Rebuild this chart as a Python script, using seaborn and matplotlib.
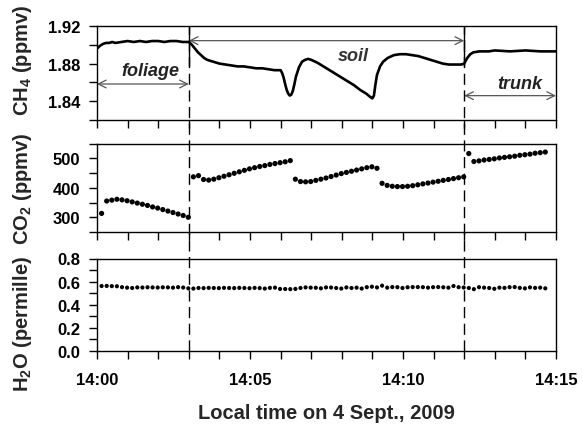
import matplotlib
matplotlib.use("Agg")
import matplotlib.pyplot as plt
import matplotlib.transforms as mtransforms
from matplotlib.lines import Line2D
from matplotlib.ticker import MultipleLocator
import numpy as np
import pandas as pd
import seaborn as sns

# ---------------- data ----------------
# CH4 (ppmv), time in minutes after 14:00
ch4_time = [0.0, 0.1, 0.2, 0.3, 0.4, 0.5, 0.6, 0.8, 1.0, 1.2, 1.4, 1.6, 1.8, 2.0, 2.2, 2.4, 2.6, 2.8, 3.0,
            3.1, 3.2, 3.3, 3.4, 3.5, 3.6, 3.8, 4.0, 4.2, 4.4, 4.6, 4.8, 5.0, 5.2, 5.4, 5.6, 5.8, 6.0,
            6.05, 6.1, 6.15, 6.2, 6.25, 6.3, 6.35, 6.4, 6.45, 6.5, 6.6, 6.7, 6.8, 6.9, 7.0, 7.2, 7.4,
            7.6, 7.8, 8.0, 8.2, 8.4, 8.6, 8.8, 8.95, 9.0, 9.05, 9.1, 9.15, 9.25, 9.35, 9.5, 9.7, 9.9,
            10.1, 10.3, 10.5, 10.7, 10.9, 11.1, 11.3, 11.5, 11.7, 11.9, 12.0, 12.1, 12.2, 12.3, 12.5,
            12.8, 13.0, 13.5, 14.0, 14.5, 15.0]
ch4_value = [1.896, 1.899, 1.901, 1.902, 1.902, 1.903, 1.902, 1.903, 1.904, 1.903, 1.904, 1.903, 1.904,
             1.904, 1.903, 1.904, 1.904, 1.903, 1.903,
             1.900, 1.896, 1.892, 1.889, 1.886, 1.884, 1.882, 1.880, 1.879, 1.878, 1.877, 1.877, 1.876,
             1.875, 1.875, 1.874, 1.873, 1.873,
             1.870, 1.865, 1.858, 1.852, 1.848, 1.846, 1.847, 1.851, 1.858, 1.866, 1.876, 1.882, 1.884,
             1.885, 1.884, 1.881, 1.877, 1.873, 1.869, 1.865, 1.861, 1.857, 1.852, 1.848, 1.844, 1.843,
             1.846, 1.858, 1.868, 1.877, 1.882, 1.886, 1.889, 1.890,
             1.890, 1.889, 1.888, 1.886, 1.884, 1.882, 1.880, 1.879, 1.879, 1.879, 1.880, 1.886, 1.890,
             1.892, 1.893, 1.893, 1.894, 1.893, 1.894, 1.893, 1.893]

# CO2 (ppmv) and H2O (permille), sampled every 10 s starting 14:00:09
sample_start = 0.15
sample_step = 1.0 / 6.0
co2_value = [313, 355, 358, 361, 359, 356, 352, 348, 344, 340, 335, 331, 326, 321, 316, 311, 306, 300,
             437, 441, 428, 426, 429, 434, 439, 444, 449, 454, 459, 464, 468, 472, 475, 479, 482, 485,
             488, 492,
             429, 421, 420, 421, 425, 429, 433, 438, 443, 448, 452, 456, 460, 464, 468, 471, 466,
             415, 408, 405, 404, 404, 405, 407, 410, 413, 416, 419, 422, 425, 428, 431, 434, 437,
             516, 489, 491, 494, 496, 498, 501, 503, 505, 507, 510, 512, 514, 517, 519, 521]
h2o_value = [0.562, 0.563, 0.561, 0.560,
             0.552, 0.548, 0.545, 0.550, 0.549, 0.551, 0.550, 0.549, 0.551, 0.550, 0.548, 0.552, 0.549, 0.542,
             0.540, 0.545, 0.544, 0.546, 0.545, 0.544, 0.546, 0.545, 0.544, 0.546, 0.545, 0.543, 0.546,
             0.544, 0.540, 0.546, 0.548, 0.537, 0.536, 0.535,
             0.537, 0.545, 0.550, 0.548, 0.547, 0.542, 0.550, 0.549, 0.545, 0.540, 0.550, 0.545, 0.548,
             0.540, 0.552, 0.556, 0.550,
             0.565, 0.548, 0.553, 0.552, 0.545, 0.551, 0.553, 0.553, 0.552, 0.548, 0.552, 0.553, 0.551,
             0.548, 0.562, 0.552, 0.549,
             0.545, 0.535, 0.552, 0.548, 0.545, 0.538, 0.548, 0.546, 0.552, 0.553, 0.546, 0.542, 0.550,
             0.546, 0.548, 0.542]
sample_time = sample_start + sample_step * np.arange(len(co2_value))

boundaries = [3, 12]
xtick_pos = [0, 5, 10, 15]
xtick_labels = ["14:00", "14:05", "14:10", "14:15"]

# ---------------- style ----------------
sns.set_theme(style="ticks")
plt.rcParams["font.family"] = ["Liberation Sans", "DejaVu Sans"]
plt.rcParams["font.weight"] = "bold"
plt.rcParams["mathtext.fontset"] = "custom"
plt.rcParams["mathtext.rm"] = "Liberation Sans:bold"
plt.rcParams["mathtext.bf"] = "Liberation Sans:bold"
plt.rcParams["mathtext.it"] = "Liberation Sans:bold:italic"
plt.rcParams["mathtext.default"] = "bf"

TICK_FS = 12
LABEL_FS = 14.5
ANN_FS = 13

fig = plt.figure(figsize=(5.83, 4.31), dpi=100)
L, W = 97 / 583, 459 / 583
ax1 = fig.add_axes([L, 1 - 121 / 431, W, 94 / 431])
ax2 = fig.add_axes([L, 1 - 233 / 431, W, 88.5 / 431])
ax3 = fig.add_axes([L, 1 - 352 / 431, W, 92.5 / 431])

sns.lineplot(x=ch4_time, y=ch4_value, ax=ax1, color="black", lw=1.9, sort=False, estimator=None)
sns.scatterplot(x=sample_time, y=co2_value, ax=ax2, color="black", s=14, edgecolor="none")
sns.scatterplot(x=sample_time, y=h2o_value, ax=ax3, color="black", s=9, edgecolor="none")

ax1.set_ylim(1.82, 1.92)
ax1.set_yticks([1.84, 1.88, 1.92])
ax1.set_yticklabels(["1.84", "1.88", "1.92"])
ax1.yaxis.set_minor_locator(MultipleLocator(0.02))
ax2.set_ylim(250, 550)
ax2.set_yticks([300, 400, 500])
ax2.yaxis.set_minor_locator(MultipleLocator(50))
ax3.set_ylim(0, 0.8)
ax3.set_yticks([0.0, 0.2, 0.4, 0.6, 0.8])
ax3.set_yticklabels(["0.0", "0.2", "0.4", "0.6", "0.8"])
ax3.yaxis.set_minor_locator(MultipleLocator(0.1))

for ax in (ax1, ax2, ax3):
    ax.set_xlim(0, 15)
    ax.set_xticks(xtick_pos)
    ax.xaxis.set_minor_locator(MultipleLocator(1))
    ax.tick_params(which="both", direction="out", length=6, width=1, color="black",
                   labelsize=TICK_FS, labelcolor="black")
    ax.tick_params(axis="y", pad=6)
    ax.tick_params(axis="x", pad=9)
    for s in ax.spines.values():
        s.set_visible(True)
        s.set_linewidth(1.0)
        s.set_color("black")
    ax.set_xlabel("")
    for lab in ax.get_yticklabels():
        lab.set_fontweight("bold")
ax1.tick_params(labelbottom=False)
ax2.tick_params(labelbottom=False)
ax3.set_xticklabels(xtick_labels, fontweight="bold")
ax3.set_xlabel("Local time on 4 Sept., 2009", fontsize=LABEL_FS, fontweight="bold", labelpad=12)

ax1.set_ylabel(r"CH$_4$ (ppmv)", fontsize=LABEL_FS, fontweight="bold")
ax2.set_ylabel(r"CO$_2$ (ppmv)", fontsize=LABEL_FS, fontweight="bold")
ax3.set_ylabel(r"H$_2$O (permille)", fontsize=LABEL_FS, fontweight="bold")
ax1.yaxis.set_label_coords(-0.138, 0.644)
ax2.yaxis.set_label_coords(-0.138, 0.5)
ax3.yaxis.set_label_coords(-0.138, 0.308)

# boundaries: solid in upper part of the CH4 panel, dashed through all panels
trans = mtransforms.blended_transform_factory(ax1.transData, fig.transFigure)
for b in boundaries:
    ax1.axvline(b, ymin=0.57, ymax=1.0, color="black", lw=1.0)
    fig.add_artist(Line2D([b, b], [1 - 352 / 431, 1 - 27 / 431], transform=trans,
                          color="black", lw=1.0, linestyle=(0, (8, 4))))

# annotations
arrow = dict(arrowstyle="<->", color="#555555", lw=0.9, mutation_scale=14, shrinkA=0, shrinkB=0)
ax1.annotate("", xy=(0, 1.8583), xytext=(3, 1.8583), arrowprops=arrow)
ax1.annotate("", xy=(3, 1.9044), xytext=(12, 1.9044), arrowprops=arrow)
ax1.annotate("", xy=(12, 1.8459), xytext=(15, 1.8459), arrowprops=arrow)
ax1.text(1.73, 1.8727, "foliage", ha="center", va="center", fontsize=ANN_FS,
         fontstyle="italic", fontweight="bold", color="#222222")
ax1.text(8.37, 1.889, "soil", ha="center", va="center", fontsize=ANN_FS,
         fontstyle="italic", fontweight="bold", color="#333333")
ax1.text(13.83, 1.8583, "trunk", ha="center", va="center", fontsize=ANN_FS,
         fontstyle="italic", fontweight="bold", color="#222222")

fig.savefig("out.png", dpi=100)
